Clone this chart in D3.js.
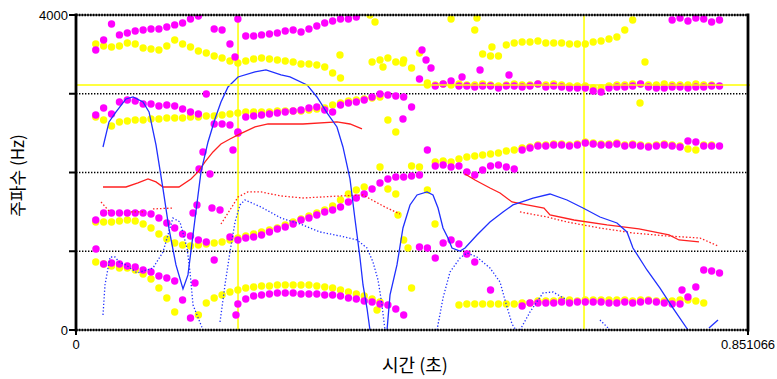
<!DOCTYPE html>
<html>
<head>
<meta charset="utf-8">
<script src="https://cdnjs.cloudflare.com/ajax/libs/d3/7.8.5/d3.min.js"></script>
<style>
  html, body { margin: 0; padding: 0; background: #fff; }
  svg { display: block; }
</style>
</head>
<body>
<div id="chart"></div>
<script>
const _ = null

// analysis frames: 0.015 s + 0.01 s steps, 81 frames
const frameTimes = d3.range(81).map(i => 0.015 + 0.01 * i)

const tMax = 0.851066
const fMax = 4000
const yTicks = [0, 1000, 2000, 3000, 4000]
const gridFreqs = [1000, 2000, 3000]
const cursorTimes = [0.2052, 0.6434]
const cursorFreq = 3112

// magenta formant tracks (Hz per frame)
const magentaF1 = [
  _, _, 838, 851, 838, 813, 800, 762, 737, 686,
  660, 622, 381, 152, _, _, _, _, _, 330,
  394, 432, 445, 457, 470, 470, 470, 457, 457, 457,
  445, 445, 432, 406, 394, 368, 356, 330, 318, 267,
  191, _, 1054, 1041, 914, 1105, 1143, 1092, 965, 864,
  _, 508, _, _, _, 305, 343, 343, 343, 343,
  356, 343, 356, 356, 356, 356, 343, 343, 356, 343,
  356, 368, 356, 343, 330, 330, 419, 546, 762, 749,
  724]
const magentaF2 = [
  _, 1397, 1486, 1486, 1486, 1486, 1486, 1486, 1473, 1422,
  1359, 1295, 1219, 1194, 1143, 1118, 889, _, 1181, 1143,
  1168, 1181, 1207, 1245, 1283, 1308, 1346, 1397, 1422, 1461,
  1499, 1524, 1562, 1626, 1676, 1727, 1791, 1867, 1918, 1943,
  1943, 1956, 1969, 2286, 2083, 2096, 2070, 2083, 2007, 1969,
  2032, 2083, 2096, 2070, 2045, 2286, 2311, 2337, 2337, 2350,
  2350, 2337, 2350, 2375, 2362, 2350, 2350, 2362, 2337, 2350,
  2337, 2324, 2337, 2350, 2337, 2324, 2400, 2388, 2337, 2337,
  2337]
const magentaF3 = [
  _, 2731, 2819, 2743, 2896, 2921, 2908, 2870, 2870, 2845,
  2858, 2845, 2807, 2769, 2743, 2997, 2616, 2616, 2604, 2515,
  2705, 2718, 2731, 2743, 2756, 2769, 2781, 2794, 2819, 2832,
  2794, 2769, 2858, 2883, 2896, 2921, 2959, 2997, 2985, 2972,
  2959, 2832, 3188, _, 3099, 3124, 3162, 3099, 3099, 3086,
  3099, 3099, 3073, 3099, 3099, 3086, 3099, 3124, 3086, 3099,
  3086, 3073, 3073, 3073, 3035, 3023, 3073, 3086, 3086, 3099,
  3124, 3086, 3073, 3073, 3086, 3086, 3073, 3086, 3086, 3099,
  3099]
const magentaF4 = [
  _, 3556, 3683, 3886, 3747, 3772, 3797, 3810, 3823, 3823,
  3848, 3874, 3899, 3950, 3988, _, 3823, 3810, 3632, 3950,
  3734, 3734, 3747, 3759, 3772, 3797, 3810, 3785, 3823, 3861,
  3899, 3924, 3950, 3950, 3975, _, _, _, _, _,
  _, _, _, _, _, _, _, _, _, _,
  _, _, _, _, _, _, _, _, _, _,
  _, _, _, _, _, _, _, _, _, _,
  _, _, _, _, 3937, 3962, 3924, 3962, 3950, 3912,
  3937]
// stray magenta points [s, Hz]
const magentaStray = [
  [0.0253, 1029], [0.1482, 1486], [0.1507, 597], [0.1532, 1588], [0.1558, 2045],
  [0.1608, 2261], [0.1697, 1981], [0.1722, 1549], [0.1824, 1524], [0.1988, 2286],
  [0.2014, 3467], [0.2026, 191], [0.2052, 2502], [0.4141, 2680], [0.4382, 3556],
  [0.4433, 3429], [0.4496, 3327], [0.4889, 3213], [0.5117, 3302], [0.5484, 3239],
  [0.7675, 508]]

// yellow formant tracks (Hz per frame)
const yellowF1 = [
  _, 864, 838, 813, 787, 787, 762, 711, 648, 533,
  406, 229, _, _, 191, 343, 406, 445, 483, 508,
  533, 546, 559, 559, 572, 572, 572, 572, 572, 559,
  546, 533, 508, 483, 457, 432, 394, 356, _, _,
  _, 533, _, _, _, _, _, 318, 330, 330,
  330, 330, 330, 330, 330, 343, 343, 368, 368, 368,
  381, 381, 368, 381, 381, 381, 381, 381, 381, 368,
  381, 381, 368, 368, 368, 381, 381, 368, 343, _,
  _]
const yellowF2 = [
  _, 1372, 1372, 1372, 1384, 1397, 1384, 1346, 1295, 1219,
  1156, 1105, 1080, 1067, 1080, 1092, 1105, 1118, 1143, 1168,
  1194, 1219, 1245, 1270, 1295, 1334, 1372, 1410, 1448, 1486,
  1524, 1575, 1651, 1727, 1778, 1816, _, 2070, 1791, 1727,
  1143, 2083, 2070, 1778, 2134, 2146, 2134, 2172, 2197, 2210,
  2223, 2235, 2248, 2273, 2286, 2311, 2324, 2350, 2350, 2362,
  2362, 2350, 2362, 2388, 2375, 2362, 2362, 2375, 2350, 2362,
  2350, 2337, 2350, 2362, 2350, 2337, 2299, 2286, 2350, 2350,
  _]
const yellowF3 = [
  _, 2705, 2667, 2591, 2642, 2654, 2667, 2667, 2680, 2680,
  2692, 2692, 2692, 2705, 2705, 2718, 2718, 2731, 2743, 2756,
  2769, 2769, 2769, 2769, 2781, 2781, 2781, 2781, 2794, 2807,
  2819, 2858, 2883, 2908, 2921, 2934, 2946, 2959, 2667, 2515,
  _, _, _, 3112, 3112, 3124, 3112, 3124, 3112, 3112,
  3124, 3112, 3099, 3112, 3124, 3112, 3112, 3124, 3112, 3124,
  3112, 3099, 3099, 3099, 3073, 3073, 3099, 3112, 3112, 3124,
  3124, 3112, 3112, 3124, 3112, 3112, 3112, 3124, 3112, 3112,
  _]
const yellowF4 = [
  _, 3632, 3607, 3594, 3607, 3645, 3632, 3581, 3569, 3556,
  3607, 3683, 3632, 3594, 3543, 3518, 3480, 3454, 3416, 3391,
  3416, 3442, 3454, 3442, 3429, 3416, 3404, 3378, 3378, 3366,
  3340, 3264, 3200, _, _, _, 3404, 3429, 3454, 3404,
  3429, 3327, 3518, 3137, _, _, 3950, _, _, 3810,
  3505, 3480, 3480, 3620, 3645, 3658, 3658, 3670, 3645, 3645,
  3645, 3632, 3632, 3632, 3658, 3670, 3696, 3721, 3810, 3937,
  _, _, _, _, _, _, _, _, _, _,
  _]
const yellowStray = [
  [0.3343, 3493], [0.3723, 4000], [0.3787, 3912], [0.3812, 254], [0.3888, 3340],
  [0.4078, 1461], [0.4141, 3391], [0.4205, 1041], [0.4547, 1346], [0.5078, 3962],
  [0.5268, 3594], [0.7143, 2883], [0.7206, 3404]]

// red contours [s, Hz], one array per piece
const redSolid = [
  [[0.0342, 1816], [0.0633, 1816], [0.0785, 1867], [0.0912, 1918], [0.1013, 1880],
   [0.1102, 1816], [0.1304, 1816], [0.1456, 1918], [0.1545, 2007], [0.1634, 2134],
   [0.1735, 2261], [0.1836, 2362], [0.1950, 2426], [0.2052, 2477], [0.2267, 2578],
   [0.2432, 2616], [0.2875, 2616], [0.3305, 2642], [0.3470, 2616], [0.3622, 2553]],
  [[0.4927, 1981], [0.5053, 1905], [0.5243, 1803], [0.5370, 1740], [0.5522, 1626],
   [0.5712, 1588], [0.5927, 1549], [0.6003, 1461], [0.6307, 1397], [0.6725, 1334],
   [0.7130, 1283], [0.7510, 1207], [0.7637, 1143], [0.7890, 1118]]]
const redDotted = [
  [[0.0317, 1626], [0.0418, 1511]],
  [[0.0697, 1499], [0.0849, 1499]],
  [[0.0975, 1537], [0.1228, 1549]],
  [[0.1836, 1346], [0.1950, 1524], [0.2052, 1689], [0.2178, 1753], [0.2343, 1753],
   [0.2596, 1702], [0.2875, 1676], [0.3343, 1702], [0.3635, 1715], [0.3749, 1651],
   [0.3913, 1562], [0.4103, 1473]],
  [[0.5623, 1499], [0.5965, 1435], [0.6218, 1372], [0.6636, 1295], [0.7054, 1232],
   [0.7485, 1194], [0.7903, 1168], [0.8131, 1067]]]

// blue contours [s, Hz]
const blueSolid = [
  [[0.0342, 2324], [0.0418, 2642], [0.0507, 2769], [0.0633, 2934], [0.0722, 2959],
   [0.0849, 2896], [0.0925, 2769], [0.1013, 2350], [0.1102, 1791], [0.1178, 1283],
   [0.1266, 826], [0.1355, 521], [0.1418, 699], [0.1507, 1410], [0.1583, 2007],
   [0.1672, 2388], [0.1760, 2680], [0.1836, 2896], [0.1925, 3086], [0.2052, 3213],
   [0.2267, 3277], [0.2406, 3302], [0.2596, 3239], [0.2710, 3213], [0.2926, 3112],
   [0.3052, 2959], [0.3179, 2756], [0.3305, 2578], [0.3381, 2324], [0.3470, 1918],
   [0.3533, 1410], [0.3597, 914], [0.3635, 572], [0.3685, 279], [0.3723, 0]],
  [[0.3939, 0], [0.3977, 445], [0.4065, 826], [0.4141, 1295], [0.4230, 1588],
   [0.4319, 1715], [0.4445, 1753], [0.4521, 1715], [0.4585, 1549], [0.4648, 1295],
   [0.4711, 1168], [0.4762, 1041], [0.4863, 1003], [0.4927, 1041], [0.5078, 1207],
   [0.5243, 1372], [0.5408, 1499], [0.5534, 1588], [0.5788, 1676], [0.6003, 1727],
   [0.6218, 1651], [0.6421, 1549], [0.6636, 1435], [0.6851, 1359], [0.6978, 1245],
   [0.7054, 1041], [0.7231, 762], [0.7396, 533], [0.7561, 279], [0.7751, 0]],
  [[0.8017, 25], [0.8131, 127]]]
const blueDotted = [
  [[0.0342, 191], [0.0367, 572], [0.0431, 927], [0.0494, 927], [0.0545, 864],
   [0.0633, 826], [0.0773, 724], [0.0975, 787], [0.1102, 991], [0.1190, 1295],
   [0.1228, 1422], [0.1317, 1372], [0.1406, 1041], [0.1444, 737], [0.1482, 318],
   [0.1608, 0]],
  [[0.1824, 102], [0.1887, 572], [0.1950, 991], [0.2014, 1372], [0.2077, 1588],
   [0.2140, 1651], [0.2343, 1562], [0.2596, 1422], [0.2837, 1346], [0.3090, 1245],
   [0.3343, 1194], [0.3559, 1143], [0.3685, 1041], [0.3761, 864], [0.3825, 635],
   [0.3875, 318], [0.3913, 0]],
  [[0.4572, 0], [0.4648, 406], [0.4737, 737], [0.4863, 914], [0.4952, 978],
   [0.5078, 927], [0.5243, 787], [0.5370, 610], [0.5433, 381], [0.5522, 76],
   [0.5572, 0]],
  [[0.5623, 0], [0.5750, 229], [0.5914, 470], [0.6041, 483], [0.6218, 381]],
  [[0.6636, 127], [0.6763, 0]]]

const ud = {
  width: 777,
  height: 379,
  left: 76,
  right: 748,
  top: 15,
  bottom: 330,
  dotR: 3.7,
}

const x = d3.scaleLinear().domain([0, tMax]).range([ud.left, ud.right])
const y = d3.scaleLinear().domain([0, fMax]).range([ud.bottom, ud.top])

const svg = d3.select('#chart').append('svg')
  .attr('width', ud.width)
  .attr('height', ud.height)
  .style('font-family', '"Liberation Sans", Arial, sans-serif')

svg.append('defs').append('clipPath').attr('id', 'plot')
  .append('rect')
  .attr('x', ud.left).attr('y', ud.top)
  .attr('width', ud.right - ud.left).attr('height', ud.bottom - ud.top)

// dotted grid
svg.selectAll('.grid')
  .data(gridFreqs)
  .enter()
  .append('line')
  .attr('class', 'grid')
  .attr('x1', ud.left).attr('x2', ud.right)
  .attr('y1', d => y(d)).attr('y2', d => y(d))
  .style('stroke', '#000')
  .style('stroke-width', 1.4)
  .style('stroke-dasharray', '1.4,1.6')

const g = svg.append('g').attr('clip-path', 'url(#plot)')

// cursors
g.selectAll('.vcur')
  .data(cursorTimes)
  .enter()
  .append('line')
  .attr('x1', d => x(d)).attr('x2', d => x(d))
  .attr('y1', ud.top).attr('y2', ud.bottom)
  .style('stroke', '#ffff00')
  .style('stroke-width', 1.5)
svg.append('line')
  .attr('x1', ud.left).attr('x2', ud.right + 2)
  .attr('y1', y(cursorFreq)).attr('y2', y(cursorFreq))
  .style('stroke', '#ffff00')
  .style('stroke-width', 1.5)

const drawTracks = (tracks, stray, colour) => {
  const pts = []
  tracks.forEach(track => {
    track.forEach((v, i) => {
      if (v != null) pts.push([frameTimes[i], v])
    })
  })
  stray.forEach(d => pts.push(d))
  g.append('g').selectAll('circle')
    .data(pts)
    .enter()
    .append('circle')
    .attr('cx', d => x(d[0]))
    .attr('cy', d => y(d[1]))
    .attr('r', ud.dotR)
    .style('fill', colour)
}

drawTracks([yellowF1, yellowF2, yellowF3, yellowF4], yellowStray, '#ffff00')
drawTracks([magentaF1, magentaF2, magentaF3, magentaF4], magentaStray, '#ff00ff')

const line = d3.line().x(d => x(d[0])).y(d => y(d[1]))

const drawContours = (pieces, colour, dash) => {
  g.append('g').selectAll('path')
    .data(pieces)
    .enter()
    .append('path')
    .attr('d', line)
    .style('fill', 'none')
    .style('stroke', colour)
    .style('stroke-width', dash ? 1.3 : 1.3)
    .style('stroke-dasharray', dash || null)
}

drawContours(redDotted, '#ff2020', '1.5,2')
drawContours(blueDotted, '#2030ff', '1.3,2')
drawContours(redSolid, '#ff2020', null)
drawContours(blueSolid, '#2030ff', null)

// frame
svg.append('line')
  .attr('x1', ud.left).attr('x2', ud.left)
  .attr('y1', ud.top - 1.5).attr('y2', ud.bottom + 1.5)
  .style('stroke', '#000').style('stroke-width', 2.8)
svg.append('line')
  .attr('x1', ud.right).attr('x2', ud.right)
  .attr('y1', ud.top - 1.5).attr('y2', ud.bottom + 1.5)
  .style('stroke', '#000').style('stroke-width', 2.8)
;[ud.top, ud.bottom].forEach(py => {
  svg.append('line')
    .attr('x1', ud.left).attr('x2', ud.right)
    .attr('y1', py).attr('y2', py)
    .style('stroke', '#000').style('stroke-width', 1)
  svg.append('line')
    .attr('x1', ud.left).attr('x2', ud.right)
    .attr('y1', py).attr('y2', py)
    .style('stroke', '#000').style('stroke-width', 2.6)
    .style('stroke-dasharray', '1.6,1.2')
})

// ticks
svg.selectAll('.ytick')
  .data(yTicks)
  .enter()
  .append('line')
  .attr('x1', ud.left - 7).attr('x2', ud.left)
  .attr('y1', d => y(d)).attr('y2', d => y(d))
  .style('stroke', '#000').style('stroke-width', 2)
;[0, tMax].forEach(t => {
  svg.append('line')
    .attr('x1', x(t)).attr('x2', x(t))
    .attr('y1', ud.bottom).attr('y2', ud.bottom + 5)
    .style('stroke', '#000').style('stroke-width', 2)
})

// labels
const yLabels = [0, 4000]
svg.selectAll('.ylab')
  .data(yLabels)
  .enter()
  .append('text')
  .attr('x', ud.left - 8)
  .attr('y', d => y(d) + 4.5)
  .attr('text-anchor', 'end')
  .style('font-size', '13px')
  .text(d => d)

const xLabels = [0, tMax]
svg.selectAll('.xlab')
  .data(xLabels)
  .enter()
  .append('text')
  .attr('x', d => x(d))
  .attr('y', 349)
  .attr('text-anchor', 'middle')
  .style('font-size', '13px')
  .text(d => d)

svg.append('text')
  .attr('transform', `translate(24,${(ud.top + ud.bottom) / 2 + 3}) rotate(-90)`)
  .attr('text-anchor', 'middle')
  .style('font-family', '"Noto Sans CJK KR", sans-serif')
  .style('font-size', '17px')
  .text('주파수 (Hz)')

svg.append('text')
  .attr('x', (ud.left + ud.right) / 2 + 3)
  .attr('y', 372)
  .attr('text-anchor', 'middle')
  .style('font-family', '"Noto Sans CJK KR", sans-serif')
  .style('font-size', '18px')
  .text('시간 (초)')
</script>
</body>
</html>
